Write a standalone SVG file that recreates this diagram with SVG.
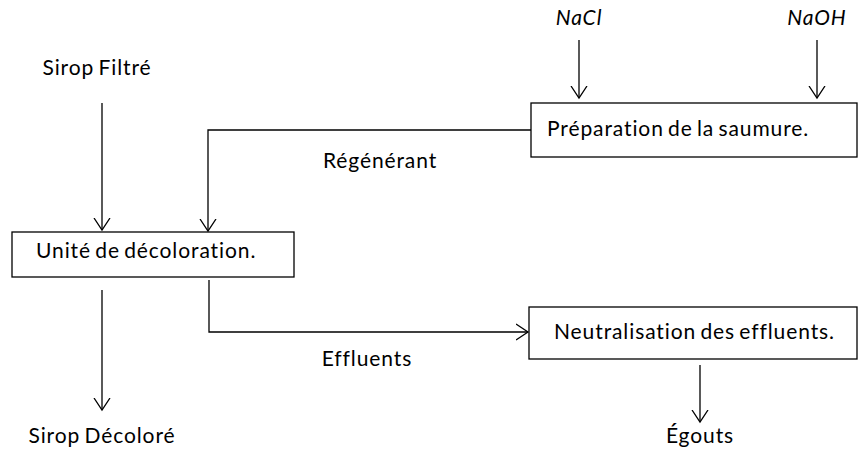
<svg xmlns="http://www.w3.org/2000/svg" width="859" height="452" viewBox="0 0 859 452">
<style>
text{font-family:Lato,"Liberation Sans",Arial,sans-serif;font-size:21px;letter-spacing:0.9px;word-spacing:-2px;fill:#000}
.it{font-style:italic}
rect{fill:#fff;stroke:#000;stroke-width:1.3}
.c{fill:none;stroke:#000;stroke-width:1.3}
</style>
<defs>
<marker id="a" markerWidth="20" markerHeight="20" refX="12" refY="8" orient="auto" markerUnits="userSpaceOnUse" viewBox="0 0 20 16">
<path d="M0,0 L12,8 L0,16" fill="none" stroke="#000" stroke-width="1.3"/>
</marker>
</defs>
<g id="labels">
<text x="97" y="75" text-anchor="middle">Sirop Filtré</text>
<text x="579" y="25" text-anchor="middle" class="it">NaCl</text>
<text x="817" y="25" text-anchor="middle" class="it">NaOH</text>
<text x="380" y="168" text-anchor="middle">Régénérant</text>
<text x="367" y="366" text-anchor="middle">Effluents</text>
<text x="102" y="443" text-anchor="middle">Sirop Décoloré</text>
<text x="700" y="443" text-anchor="middle">Égouts</text>
</g>
<g id="connectors">
<path class="c" d="M102,103 V230" marker-end="url(#a)"/>
<path class="c" d="M579,40 V98" marker-end="url(#a)"/>
<path class="c" d="M817,40 V98" marker-end="url(#a)"/>
<path class="c" d="M531,130 H208 V231" marker-end="url(#a)"/>
<path class="c" d="M209,280 V332 H528" marker-end="url(#a)"/>
<path class="c" d="M102,290 V410" marker-end="url(#a)"/>
<path class="c" d="M700,365 V422" marker-end="url(#a)"/>
</g>
<g id="decoloration">
<rect x="12" y="232" width="282" height="45"/>
<text x="36" y="258">Unité de décoloration.</text>
</g>
<g id="saumure">
<rect x="531" y="103" width="326" height="54"/>
<text x="547" y="136">Préparation de la saumure.</text>
</g>
<g id="neutralisation">
<rect x="529" y="307" width="328" height="52"/>
<text x="554" y="339">Neutralisation des effluents.</text>
</g>
</svg>
